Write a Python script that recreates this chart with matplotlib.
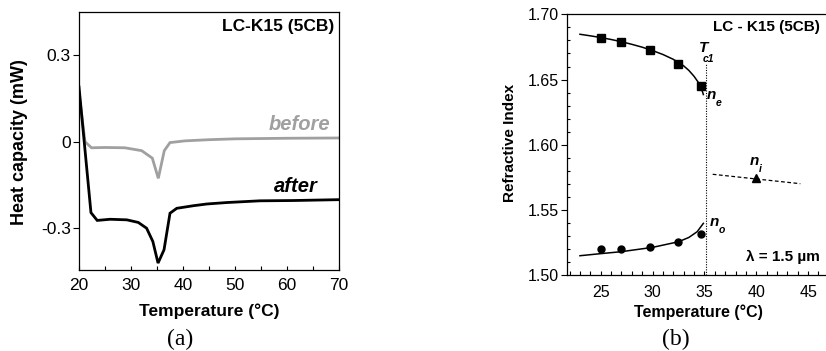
import matplotlib
matplotlib.use("Agg")
import matplotlib.pyplot as plt
import numpy as np

plt.rcParams['font.family'] = ['Liberation Sans', 'DejaVu Sans']

# ---------------- Panel (a) data ----------------
t_after = [20.0, 22.3, 23.5, 26.0, 29.2, 31.4, 33.0, 34.2, 35.2, 36.35, 37.5, 38.8, 42.0, 44.6, 48.4, 54.8, 61.2, 70.0]
cp_after = [0.19, -0.246, -0.273, -0.269, -0.271, -0.280, -0.300, -0.346, -0.421, -0.375, -0.248, -0.231, -0.222, -0.216, -0.211, -0.205, -0.204, -0.201]

t_before = [20.0, 21.15, 22.4, 25.0, 28.8, 32.05, 34.1, 35.25, 36.4, 37.5, 40.4, 45.0, 50.0, 60.0, 70.0]
cp_before = [0.17, 0.0, -0.021, -0.020, -0.021, -0.031, -0.057, -0.127, -0.031, -0.003, 0.003, 0.007, 0.010, 0.012, 0.013]

a_yticks = [0.3, 0.0, -0.3]
a_yticklabels = ["0.3", "0", "-0.3"]
a_xticks = [20, 30, 40, 50, 60, 70]

# ---------------- Panel (b) data ----------------
t_ne = [25.0, 27.0, 29.75, 32.45, 34.7]
n_e = [1.6821, 1.6788, 1.6726, 1.6617, 1.6453]
t_no = [25.0, 27.0, 29.75, 32.45, 34.7]
n_o = [1.5202, 1.5202, 1.5219, 1.5253, 1.5317]
t_ni = [40.0]
n_i = [1.5745]

fit_t_e = [23.0, 24.0, 25.0, 26.0, 27.0, 28.0, 29.0, 30.0, 31.0, 32.0, 33.0, 33.5, 34.0, 34.4, 34.7, 34.9]
fit_n_e = [1.6847, 1.6835, 1.6822, 1.6807, 1.6790, 1.6770, 1.6748, 1.6722, 1.6692, 1.6655, 1.6605, 1.6570, 1.6525, 1.6480, 1.6435, 1.6385]
fit_t_o = [23.0, 25.0, 27.0, 30.0, 32.5, 33.5, 34.3, 34.9]
fit_n_o = [1.5150, 1.5166, 1.5181, 1.5214, 1.5257, 1.5290, 1.5334, 1.5398]
fit_t_i = [35.8, 44.25]
fit_n_i = [1.5774, 1.5702]
t_c1 = 35.2

b_yticks = [1.50, 1.55, 1.60, 1.65, 1.70]
b_xticks = [25, 30, 35, 40, 45]

W, H = 826, 351
fig = plt.figure(figsize=(W / 100, H / 100), dpi=100)

def frac(x0, y0, x1, y1):
    return [x0 / W, 1 - y1 / H, (x1 - x0) / W, (y1 - y0) / H]

# ---------------- Panel (a) ----------------
ax1 = fig.add_axes(frac(79, 12, 339, 270))
ax1.plot(t_before, cp_before, color='#a0a0a0', lw=2.0, solid_joinstyle='miter')
ax1.plot(t_after, cp_after, color='black', lw=2.0, solid_joinstyle='miter')
ax1.set_xlim(20, 70)
ax1.set_ylim(-0.445, 0.45)
ax1.set_yticks(a_yticks)
ax1.set_yticklabels(a_yticklabels)
ax1.set_xticks(a_xticks)
ax1.set_xticks([25, 35, 45, 55, 65], minor=True)
ax1.tick_params(axis='x', which='both', direction='in', length=3, width=0.8, labelsize=12.5, pad=6)
ax1.tick_params(axis='y', which='major', direction='out', length=4, width=0.8, labelsize=12.5, pad=2)
for s in ax1.spines.values():
    s.set_linewidth(0.9)
ax1.text(0.981, 0.942, "LC-K15 (5CB)", transform=ax1.transAxes, ha='right', va='center',
         fontsize=12.5, fontweight='bold')
ax1.text(68.3, 0.06, "before", ha='right', va='center', fontsize=14.5, fontweight='bold',
         style='italic', color='#a0a0a0')
ax1.text(66.0, -0.156, "after", ha='right', va='center', fontsize=14.5, fontweight='bold',
         style='italic', color='black')

fig.text(209 / W, 1 - 311.5 / H, "Temperature (°C)", ha='center', va='center', fontsize=12.5, fontweight='bold')
fig.text(20 / W, 1 - 142.5 / H, "Heat capacity (mW)", ha='center', va='center', rotation=90,
         fontsize=13, fontweight='bold')
fig.text(180 / W, 1 - 339 / H, "(a)", ha='center', va='center', fontsize=17, family='Liberation Serif')

# ---------------- Panel (b) ----------------
xl0, xl1 = 21.75, 47.5
px_per = 10.37
x_left = 567
x_right = x_left + (xl1 - xl0) * px_per
ax2 = fig.add_axes(frac(x_left, 14.3, x_right, 275.3))
ax2.plot(fit_t_e, fit_n_e, color='black', lw=1.1)
ax2.plot(fit_t_o, fit_n_o, color='black', lw=1.1)
ax2.plot(fit_t_i, fit_n_i, color='black', lw=0.9, ls=(0, (3, 2)))
ax2.plot(t_ne, n_e, ls='none', marker='s', ms=5.2, color='black')
ax2.plot(t_no, n_o, ls='none', marker='o', ms=5.0, color='black')
ax2.plot(t_ni, n_i, ls='none', marker='^', ms=5.5, color='black')
ax2.plot([t_c1, t_c1], [1.50, 1.6627], color='black', lw=0.8, ls=(0, (1, 1.3)))
ax2.set_xlim(xl0, xl1)
ax2.set_ylim(1.50, 1.70)
ax2.set_xticks(b_xticks)
ax2.set_xticks(np.arange(22, 48, 1), minor=True)
ax2.set_yticks(b_yticks)
ax2.set_yticklabels(["%.2f" % v for v in b_yticks])
ax2.set_yticks(np.arange(1.50, 1.7001, 0.01), minor=True)
ax2.tick_params(axis='x', which='both', direction='in', length=3, width=0.8, labelsize=11.5, pad=7)
ax2.tick_params(axis='y', which='major', direction='out', length=4, width=0.8, labelsize=11.5, pad=2)
ax2.tick_params(axis='y', which='minor', direction='in', length=2.5, width=0.8)
for s in ax2.spines.values():
    s.set_linewidth(0.9)

ax2.text(46.15, 1.6903, "LC - K15 (5CB)", ha='right', va='center', fontsize=11, fontweight='bold')
ax2.text(46.15, 1.514, "λ = 1.5 µm", ha='right', va='center', fontsize=11, fontweight='bold')
ax2.text(34.48, 1.6742, "T", ha='left', va='center', fontsize=11, fontweight='bold', style='italic')
ax2.text(34.8, 1.6661, "c1", ha='left', va='center', fontsize=7.5, fontweight='bold', style='italic')
ax2.text(35.67, 1.6382, "n", ha='center', va='center', fontsize=11, fontweight='bold', style='italic')
ax2.text(36.41, 1.6318, "e", ha='center', va='center', fontsize=7.5, fontweight='bold', style='italic')
ax2.text(36.0, 1.5411, "n", ha='center', va='center', fontsize=11, fontweight='bold', style='italic')
ax2.text(36.73, 1.5347, "o", ha='center', va='center', fontsize=7.5, fontweight='bold', style='italic')
ax2.text(39.85, 1.5878, "n", ha='center', va='center', fontsize=11, fontweight='bold', style='italic')
ax2.text(40.39, 1.5812, "i", ha='center', va='center', fontsize=7.5, fontweight='bold', style='italic')

fig.text(698 / W, 1 - 312 / H, "Temperature (°C)", ha='center', va='center', fontsize=11.5, fontweight='bold')
fig.text(509.7 / W, 1 - 143 / H, "Refractive Index", ha='center', va='center', rotation=90,
         fontsize=11, fontweight='bold')
fig.text(676 / W, 1 - 339 / H, "(b)", ha='center', va='center', fontsize=17, family='Liberation Serif')

fig.savefig("out.png", dpi=100)
